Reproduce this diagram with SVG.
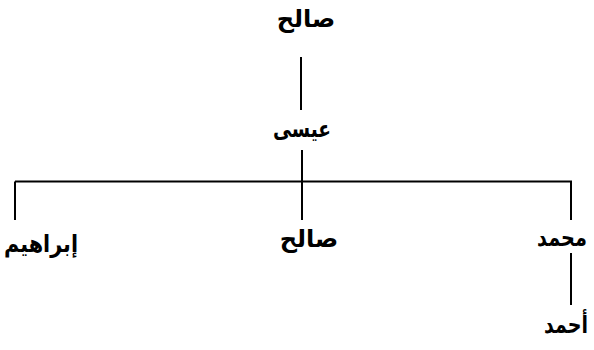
<svg xmlns="http://www.w3.org/2000/svg" width="594" height="350" viewBox="0 0 594 350">
<style>
.bg{fill:#ffffff}
.lbl{font-family:"DejaVu Sans","Noto Sans",sans-serif;font-size:24px;font-weight:bold;fill:#000;text-anchor:middle}
.ln{stroke:#000;stroke-width:2;fill:none}
</style>
<rect class="bg" x="0" y="0" width="594" height="350"/>
<g id="connectors">
<line class="ln" x1="301" y1="57" x2="301" y2="110"/>
<line class="ln" x1="302" y1="150" x2="302" y2="220"/>
<line class="ln" x1="15" y1="181.5" x2="572" y2="181.5"/>
<line class="ln" x1="15" y1="181.5" x2="15" y2="220"/>
<line class="ln" x1="571" y1="181.5" x2="571" y2="220"/>
<line class="ln" x1="571" y1="253" x2="571" y2="305"/>
</g>
<g id="n-saleh-top"><text class="lbl" x="306" y="27">صالح</text></g>
<g id="n-issa"><text class="lbl" x="302" y="137" textLength="58" lengthAdjust="spacingAndGlyphs">عيسى</text></g>
<g id="n-ibrahim"><text class="lbl" x="41" y="252" textLength="74" lengthAdjust="spacingAndGlyphs">إبراهيم</text></g>
<g id="n-saleh"><text class="lbl" x="309" y="247">صالح</text></g>
<g id="n-mohammad"><text class="lbl" x="562" y="246" textLength="50" lengthAdjust="spacingAndGlyphs">محمد</text></g>
<g id="n-ahmad"><text class="lbl" x="566" y="333" textLength="44" lengthAdjust="spacingAndGlyphs">أحمد</text></g>
</svg>
